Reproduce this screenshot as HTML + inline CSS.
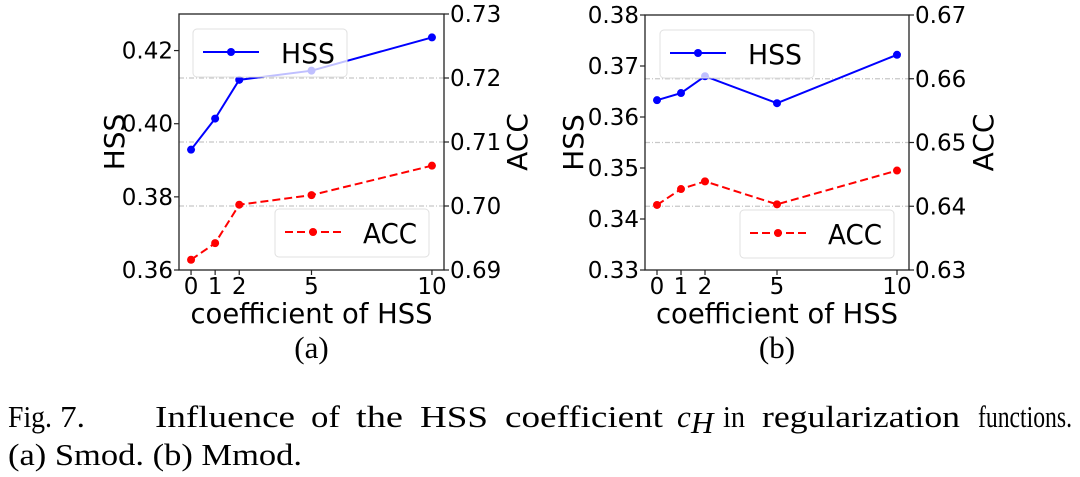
<!DOCTYPE html>
<html><head><meta charset="utf-8">
<style>
html,body{margin:0;padding:0;background:#fff;}
svg{display:block;}
.tk{font-family:"DejaVu Sans","Liberation Sans",sans-serif;font-size:23px;fill:#000;}
.lab{font-family:"DejaVu Sans","Liberation Sans",sans-serif;font-size:28px;fill:#000;}
.cap{font-family:"Liberation Serif",serif;font-size:31px;fill:#000;}
</style></head>
<body>
<svg id="fig" width="1080" height="477" viewBox="0 0 1080 477" xmlns="http://www.w3.org/2000/svg">
<g>
<text class="cap" x="8" y="427" textLength="44" lengthAdjust="spacingAndGlyphs">Fig.</text>
<text class="cap" x="60" y="427" textLength="25" lengthAdjust="spacingAndGlyphs">7.</text>
<text class="cap" x="155" y="427" textLength="140" lengthAdjust="spacingAndGlyphs">Influence</text>
<text class="cap" x="311" y="427" textLength="29" lengthAdjust="spacingAndGlyphs">of</text>
<text class="cap" x="356" y="427" textLength="47" lengthAdjust="spacingAndGlyphs">the</text>
<text class="cap" x="420" y="427" textLength="68" lengthAdjust="spacingAndGlyphs">HSS</text>
<text class="cap" x="505" y="427" textLength="158" lengthAdjust="spacingAndGlyphs">coefficient</text>
<text class="cap" x="677" y="427" font-style="italic">c</text>
<text class="cap" x="691" y="433" font-style="italic" font-size="21">H</text>
<text class="cap" x="723" y="427" textLength="22" lengthAdjust="spacingAndGlyphs">in</text>
<text class="cap" x="762" y="427" textLength="198" lengthAdjust="spacingAndGlyphs">regularization</text>
<text class="cap" x="978" y="427" textLength="94" lengthAdjust="spacingAndGlyphs">functions.</text>
</g>
<text class="cap" x="8" y="465" textLength="294" lengthAdjust="spacingAndGlyphs">(a) Smod. (b) Mmod.</text>
</svg>
<script>
// shared x categories
const xCats = [0, 1, 2, 5, 10];
// panel (a) Smod
const hssA = [0.3929, 0.4014, 0.4120, 0.4145, 0.4236];
const accA = [0.6916, 0.6942, 0.7002, 0.7017, 0.7063];
const leftTicksA = ["0.36", "0.38", "0.40", "0.42"];
const rightTicksA = ["0.69", "0.70", "0.71", "0.72", "0.73"];
// panel (b) Mmod
const hssB = [0.3633, 0.3647, 0.3680, 0.3627, 0.3722];
const accB = [0.6402, 0.6427, 0.6439, 0.6403, 0.6456];
const leftTicksB = ["0.33", "0.34", "0.35", "0.36", "0.37", "0.38"];
const rightTicksB = ["0.63", "0.64", "0.65", "0.66", "0.67"];

const NS = "http://www.w3.org/2000/svg";
const svg = document.getElementById("fig");
function mk(tag, attrs, parent) {
  const e = document.createElementNS(NS, tag);
  for (const k in attrs) e.setAttribute(k, attrs[k]);
  (parent || svg).appendChild(e);
  return e;
}

function panel(cfg) {
  const g = mk("g", {});
  
  
  const {x0, x1, y0, y1} = cfg;
  const xs = v => x0 + (v + 0.5) / 11 * (x1 - x0);
  const yl = v => y1 - (v - cfg.lmin) / (cfg.lmax - cfg.lmin) * (y1 - y0);
  const yr = v => y1 - (v - cfg.rmin) / (cfg.rmax - cfg.rmin) * (y1 - y0);
  cfg.rticks.forEach(t => {
    const v = parseFloat(t);
    if (v <= cfg.rmin || v >= cfg.rmax) return;
    const l = mk("line", {x1: x0, x2: x1, y1: yr(v), y2: yr(v), stroke: "#c8c8c8", "stroke-width": 1.2, "stroke-dasharray": "5 2 1 2"}, g);
    
    
  });
  const box = mk("rect", {x: x0, y: y0, width: x1 - x0, height: y1 - y0, fill: "none", stroke: "#222", "stroke-width": 1.3}, g);
  
  
  cfg.lticks.forEach(t => {
    const y = yl(parseFloat(t));
    mk("line", {x1: x0 - 5, x2: x0, y1: y, y2: y, stroke: "#222", "stroke-width": 1.2}, g);
    const tx = mk("text", {x: x0 - 6, y: y + 8, "text-anchor": "end", class: "tk", "font-size": "24"}, g);
    tx.textContent = t;
    
    
  });
  cfg.rticks.forEach(t => {
    const y = yr(parseFloat(t));
    mk("line", {x1: x1, x2: x1 + 5, y1: y, y2: y, stroke: "#222", "stroke-width": 1.2}, g);
    const tx = mk("text", {x: x1 + 6, y: y + 8, "text-anchor": "start", class: "tk", "font-size": "24"}, g);
    tx.textContent = t;
    
    
  });
  xCats.forEach(c => {
    const x = xs(c);
    mk("line", {x1: x, x2: x, y1: y1, y2: y1 + 5, stroke: "#222", "stroke-width": 1.2}, g);
    const tx = mk("text", {x: x, y: y1 + 24, "text-anchor": "middle", class: "tk", "font-size": "24"}, g);
    tx.textContent = String(c);
    
    
  });
  const lt = mk("text", {x: 0, y: 0, "text-anchor": "middle", class: "lab", transform: `translate(${cfg.ylabX},${(y0 + y1) / 2}) rotate(-90)`}, g);
  lt.textContent = "HSS";
  
  
  const rt = mk("text", {x: 0, y: 0, "text-anchor": "middle", class: "lab", transform: `translate(${cfg.yrabX},${(y0 + y1) / 2}) rotate(-90)`}, g);
  rt.textContent = "ACC";
  
  
  const xt = mk("text", {x: (x0 + x1) / 2, y: 323, "text-anchor": "middle", class: "lab", textLength: "242", lengthAdjust: "spacingAndGlyphs"}, g);
  xt.textContent = "coefficient of HSS";
  
  
  const st = mk("text", {x: (x0 + x1) / 2, y: 358, "text-anchor": "middle", class: "cap", "font-size": "30"}, g);
  st.textContent = cfg.sub;
  
  
  function series(vals, yf, color, dash, nm) {
    const pts = vals.map((v, i) => xs(xCats[i]) + "," + yf(v)).join(" ");
    const pl = mk("polyline", {points: pts, fill: "none", stroke: color, "stroke-width": 2, "stroke-dasharray": dash}, g);
    
    
    vals.forEach((v, i) => {
      const c = mk("circle", {cx: xs(xCats[i]), cy: yf(v), r: 4, fill: color}, g);
      
      
    });
  }
  series(cfg.hss, yl, "#0000ff", "none", "hss");
  series(cfg.acc, yr, "#ff0000", "8 4", "acc");
  function legend(lx, ly, label, color, dash, nm) {
    const lg = mk("g", {}, g);
    
    
    mk("rect", {x: lx, y: ly, width: 154, height: 48, rx: 4, fill: "rgba(255,255,255,0.75)", stroke: "#e0e0e0", "stroke-width": 1}, lg);
    mk("line", {x1: lx + 10, x2: lx + 66, y1: ly + 23, y2: ly + 23, stroke: color, "stroke-width": 2, "stroke-dasharray": dash}, lg);
    mk("circle", {cx: lx + 38, cy: ly + 23, r: 4, fill: color}, lg);
    const t = mk("text", {x: lx + 88, y: ly + 34, class: "lab", "font-size": "28", textLength: "54", lengthAdjust: "spacingAndGlyphs"}, lg);
    t.textContent = label;
  }
  legend(cfg.l1x, cfg.l1y, "HSS", "#0000ff", "none", "legend-hss");
  legend(cfg.l2x, cfg.l2y, "ACC", "#ff0000", "8 4", "legend-acc");
}

panel({name: "panel-a-smod", x0: 179, x1: 444, y0: 14, y1: 270, lmin: 0.36, lmax: 0.43, rmin: 0.69, rmax: 0.73,
  lticks: leftTicksA, rticks: rightTicksA, hss: hssA, acc: accA, ylabX: 124, yrabX: 527, sub: "(a)",
  l1x: 193, l1y: 29, l2x: 275, l2y: 209});
panel({name: "panel-b-mmod", x0: 645, x1: 909, y0: 15, y1: 270, lmin: 0.33, lmax: 0.38, rmin: 0.63, rmax: 0.67,
  lticks: leftTicksB, rticks: rightTicksB, hss: hssB, acc: accB, ylabX: 583, yrabX: 993, sub: "(b)",
  l1x: 660, l1y: 30, l2x: 740, l2y: 210});
</script>
</body></html>
